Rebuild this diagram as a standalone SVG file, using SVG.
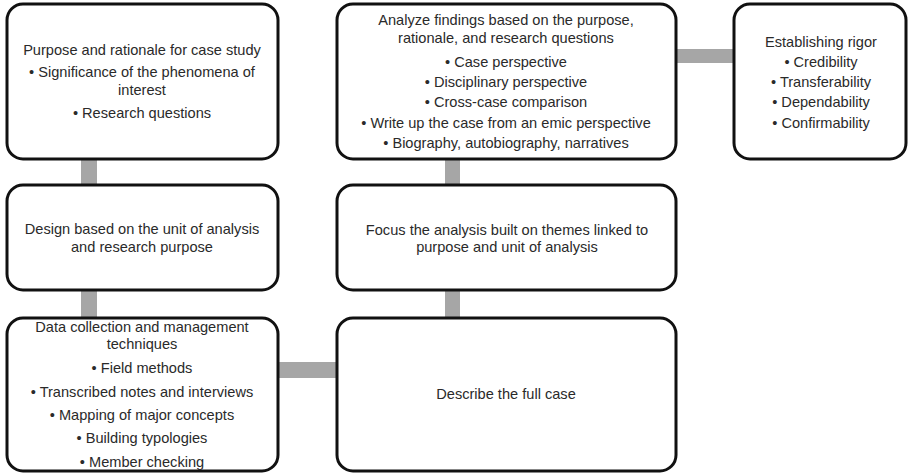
<svg xmlns="http://www.w3.org/2000/svg" width="913" height="475" viewBox="0 0 913 475">
<style>
.box{fill:#fff;stroke:#111;stroke-width:3}
.con{fill:#a6a6a6}
text{font-family:"Liberation Sans",Arial,sans-serif;font-size:14.6px;fill:#2a2a2a;text-anchor:middle}
</style>
<rect width="913" height="475" fill="#fff"/>
<g id="connectors">
<rect class="con" x="81" y="158" width="16" height="28"/>
<rect class="con" x="81" y="289" width="16" height="30"/>
<rect class="con" x="445" y="158" width="15" height="28"/>
<rect class="con" x="445" y="289" width="15" height="30"/>
<rect class="con" x="277" y="362" width="61" height="16"/>
<rect class="con" x="675" y="49" width="60" height="14"/>
</g>
<g id="n1">
<rect class="box" x="7" y="4" width="271" height="155" rx="16"/>
<text x="142" y="55">Purpose and rationale for case study</text>
<text x="142" y="77">• Significance of the phenomena of</text>
<text x="142" y="95">interest</text>
<text x="142" y="118">• Research questions</text>
</g>
<g id="n2">
<rect class="box" x="7" y="185" width="271" height="105" rx="16"/>
<text x="142" y="234">Design based on the unit of analysis</text>
<text x="142" y="252">and research purpose</text>
</g>
<g id="n3">
<rect class="box" x="7" y="318" width="271" height="153" rx="16"/>
<text x="142" y="332">Data collection and management</text>
<text x="142" y="349">techniques</text>
<text x="142" y="373">• Field methods</text>
<text x="142" y="397">• Transcribed notes and interviews</text>
<text x="142" y="420">• Mapping of major concepts</text>
<text x="142" y="443">• Building typologies</text>
<text x="142" y="467">• Member checking</text>
</g>
<g id="n4">
<rect class="box" x="337" y="4" width="339" height="155" rx="16"/>
<text x="506" y="25">Analyze findings based on the purpose,</text>
<text x="506" y="43">rationale, and research questions</text>
<text x="506" y="67">• Case perspective</text>
<text x="506" y="87">• Disciplinary perspective</text>
<text x="506" y="107">• Cross-case comparison</text>
<text x="506" y="128">• Write up the case from an emic perspective</text>
<text x="506" y="148">• Biography, autobiography, narratives</text>
</g>
<g id="n5">
<rect class="box" x="337" y="185" width="339" height="105" rx="16"/>
<text x="507" y="235">Focus the analysis built on themes linked to</text>
<text x="507" y="252">purpose and unit of analysis</text>
</g>
<g id="n6">
<rect class="box" x="337" y="318" width="339" height="153" rx="16"/>
<text x="506" y="399">Describe the full case</text>
</g>
<g id="n7">
<rect class="box" x="734" y="4" width="172" height="155" rx="16"/>
<text x="821" y="47">Establishing rigor</text>
<text x="821" y="67">• Credibility</text>
<text x="821" y="87">• Transferability</text>
<text x="821" y="107">• Dependability</text>
<text x="821" y="128">• Confirmability</text>
</g>
</svg>
